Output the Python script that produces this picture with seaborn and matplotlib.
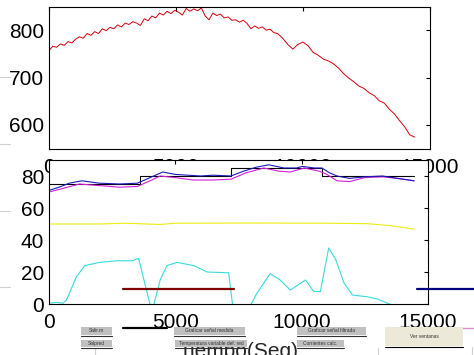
import matplotlib
matplotlib.use("Agg")
import matplotlib.pyplot as plt
import seaborn as sns
from matplotlib.lines import Line2D
from matplotlib.patches import Rectangle

# ---------------------------------------------------------------------
# Datos
# ---------------------------------------------------------------------
tiempo_sup = [0, 150, 300, 450, 600, 750, 900, 1050, 1200, 1350, 1500, 1650,
              1800, 1950, 2100, 2250, 2400, 2550, 2700, 2850, 3000, 3150, 3300,
              3450, 3600, 3750, 3900, 4050, 4200, 4350, 4500, 4650, 4800, 4950,
              5100, 5250, 5400, 5550, 5700, 5850, 6000, 6150, 6300, 6450, 6600,
              6750, 6900, 7050, 7200, 7350, 7500, 7650, 7800, 7950, 8100, 8250,
              8400, 8550, 8700, 8850, 9000, 9200, 9400, 9600, 9800, 10000,
              10200, 10400, 10600, 10800, 11000, 11200, 11400, 11600, 11800,
              12000, 12200, 12400, 12600, 12800, 13000, 13200, 13400, 13600,
              13800, 14000, 14200, 14400]
senal_sup = [757, 766, 764, 771, 768, 776, 773, 781, 786, 783, 793, 789,
             797, 793, 803, 799, 806, 803, 811, 807, 815, 812, 818,
             815, 810, 824, 820, 830, 826, 836, 832, 840, 835, 842,
             838, 832, 846, 840, 845, 841, 847, 830, 822, 836, 831,
             834, 826, 828, 821, 822, 817, 821, 814, 803, 809, 804,
             807, 800, 802, 795, 793, 783, 770, 760, 770, 775,
             767, 753, 747, 739, 735, 729, 720, 708, 699,
             691, 682, 677, 668, 662, 651, 646, 633, 623,
             609, 596, 579, 574]

t_azul = [0, 400, 800, 1300, 2000, 2800, 3500, 4000, 4500, 5000, 5500, 6000,
          6500, 7200, 7700, 8200, 8700, 9300, 9800, 10030, 10500, 10800, 11100,
          11400, 11900, 12500, 13200, 13800, 14450]
v_azul = [71, 73, 75.5, 77, 75.5, 75, 75.5, 79, 82.5, 81, 80.5, 80,
          80.5, 80, 83, 85.5, 87, 85, 85, 86, 85, 85, 82,
          80, 78.5, 79.5, 80, 78.5, 77]

t_mag = [0, 500, 1200, 2000, 2800, 3500, 4000, 4400, 5000, 5700, 6500, 7200,
         7800, 8500, 9100, 9550, 10100, 10700, 11000, 11400, 11900, 12500,
         13200, 13800, 14450]
v_mag = [70, 72, 75, 74, 73, 73.5, 77, 80, 79, 77.5, 77.5, 78,
         82, 85, 83, 82.5, 85, 83, 81, 77, 76.5, 79,
         79.5, 78.5, 77]

t_negro = [0, 3600, 7200, 10800, 14450]
v_negro = [75, 80, 85, 80, 80]

t_amar = [0, 2000, 3000, 4400, 5000, 8000, 11000, 12600, 13500, 14450]
v_amar = [50, 50, 50.5, 49.7, 50.5, 50.6, 50.5, 50.2, 49, 46.8]

t_cian = [0, 300, 550, 690, 1085, 1417, 2000, 2650, 3300, 3545, 4074, 4400,
          4670, 5070, 5730, 6260, 7110, 7300, 7830, 8220, 8750, 9150, 9550,
          10150, 10480, 10740, 11070, 11340, 11680, 12010, 12600, 13000,
          13470, 14000, 14450]
v_cian = [0.5, 1, 0.5, 2.5, 17, 24, 26, 27, 27, 28.5, -5, 15,
          24, 26, 24, 20, 19.5, -5, -5, 6.5, 19, 15, 8.7,
          15, 7.8, 7.8, 35, 28, 13, 5.6, 4.5, 3.1,
          0, -5, -5]

t_ref = [2940, 7340]
v_ref = [9.5, 9.5]

xticks = [0, 5000, 10000, 15000]
yticks_sup = [600, 700, 800]
yticks_inf = [0, 20, 40, 60, 80]

# Controles de la interfaz (texto de los botones)
botones = ["Salir.m", "Salpred", "Graficar señal medida",
           "Temperatura variable def. red", "Graficar señal filtrada",
           "Corrientes calc.", "Ver ventanas"]

W, H = 474, 355

sns.set_theme(style="white")
plt.rcParams["font.family"] = ["Liberation Sans", "DejaVu Sans"]
plt.rcParams["font.size"] = 15


def estilo_ejes(ax):
    for s in ax.spines.values():
        s.set_color("black")
        s.set_linewidth(0.8)
    ax.tick_params(direction="in", length=3, width=0.8, colors="black",
                   top=True, right=True, labelsize=15)
    ax.tick_params(axis="x", pad=6.5)
    ax.tick_params(axis="y", pad=3.5)
    ax.set_xticks(xticks)
    ax.set_xticklabels([str(t) for t in xticks])


fig = plt.figure(figsize=(W / 100, H / 100), dpi=100, facecolor="white")

# --- eje superior ---
ax1 = fig.add_axes([49 / W, 1 - 149 / H, 381 / W, 142 / H])
sns.lineplot(x=tiempo_sup, y=senal_sup, ax=ax1, color="#d8000c",
             linewidth=0.7, sort=False, estimator=None)
ax1.set_xlim(0, 15000)
ax1.set_ylim(549, 849)
ax1.set_yticks(yticks_sup)
estilo_ejes(ax1)

# --- eje inferior (tapa las etiquetas del superior) ---
ax2 = fig.add_axes([49 / W, 1 - 304 / H, 379 / W, 144 / H])
ax2.set_facecolor("white")
lw = 0.8
sns.lineplot(x=t_amar, y=v_amar, ax=ax2, color="#eeee10", linewidth=lw,
             sort=False, estimator=None)
sns.lineplot(x=t_cian, y=v_cian, ax=ax2, color="#38dcdc", linewidth=lw,
             sort=False, estimator=None)
ax2.step(t_negro, v_negro, where="post", color="black", linewidth=lw)
sns.lineplot(x=t_mag, y=v_mag, ax=ax2, color="#d020d8", linewidth=lw,
             sort=False, estimator=None)
sns.lineplot(x=t_azul, y=v_azul, ax=ax2, color="#1a1ab8", linewidth=lw,
             sort=False, estimator=None)
sns.lineplot(x=t_ref, y=v_ref, ax=ax2, color="#800000", linewidth=1.6,
             sort=False, estimator=None)
ax2.set_xlim(0, 15000)
ax2.set_ylim(0, 90)
ax2.set_yticks(yticks_inf)
estilo_ejes(ax2)
ax2.set_xlabel("Tiempo(Seg)", fontsize=15)
ax2.xaxis.set_label_coords(0.5, -0.265)
ax2.set_ylabel("")

# --- lineas sueltas de la figura (en pixeles) ---
seg_x = [(123, 167), (417, 474), (417, 474)]
seg_y = [328, 289, 328]
seg_c = ["black", "#000080", "#d890c8"]
seg_w = [1.6, 1.6, 1.0]
for (x0, x1), y, c, w in zip(seg_x, seg_y, seg_c, seg_w):
    fig.add_artist(Line2D([x0 / W, x1 / W], [1 - y / H, 1 - y / H],
                          transform=fig.transFigure, color=c, linewidth=w))

for y in [77, 144, 211, 287]:
    fig.add_artist(Line2D([0, 10 / W], [1 - y / H, 1 - y / H],
                          transform=fig.transFigure, color="#d0d0d0",
                          linewidth=0.8))
for x, y0 in [(95, 349), (378, 348), (472, 347)]:
    fig.add_artist(Line2D([x / W, x / W], [1 - y0 / H, 1 - 355 / H],
                          transform=fig.transFigure, color="#d0d0d0",
                          linewidth=0.8))

# --- botones ---
cajas = [(81, 327, 31, 8), (81, 340, 31, 7), (174, 327, 71, 8),
         (175, 340, 72, 7), (297, 327, 69, 8), (297, 340, 47, 7),
         (385, 327, 78, 19)]
for i, (bx, by, bw, bh) in enumerate(cajas):
    color = "#ece9d8" if i == 6 else "#c0c0c0"
    fig.add_artist(Rectangle((bx / W, 1 - (by + bh) / H), bw / W, bh / H,
                             transform=fig.transFigure, facecolor=color,
                             edgecolor="none", zorder=5))
    fig.add_artist(Line2D([bx / W, (bx + bw) / W],
                          [1 - (by + bh + 1) / H, 1 - (by + bh + 1) / H],
                          transform=fig.transFigure,
                          color="#303030" if i < 6 else "black",
                          linewidth=0.8, zorder=5))
    fig.text((bx + bw / 2) / W, 1 - (by + bh / 2) / H, botones[i],
             ha="center", va="center", fontsize=3.5, color="#303030",
             zorder=6)

fig.savefig("out.png", dpi=100, facecolor="white")
plt.close(fig)
